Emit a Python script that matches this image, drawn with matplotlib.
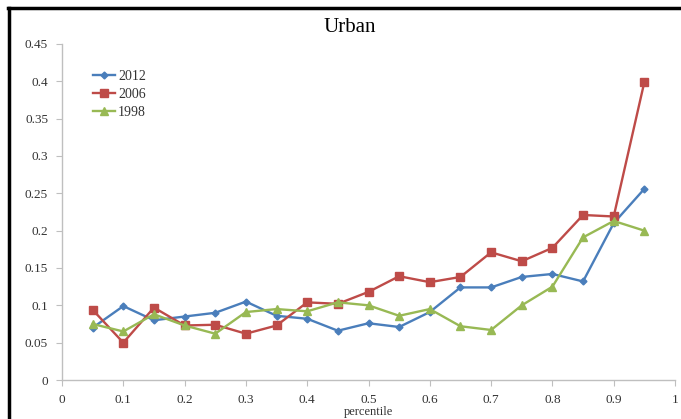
import matplotlib
matplotlib.use('Agg')
import matplotlib.pyplot as plt
import numpy as np

# percentile grid and share values per survey year
pct = [0.05, 0.1, 0.15, 0.2, 0.25, 0.3, 0.35, 0.4, 0.45, 0.5,
       0.55, 0.6, 0.65, 0.7, 0.75, 0.8, 0.85, 0.9, 0.95]
y2012 = [0.070, 0.099, 0.080, 0.085, 0.090, 0.105, 0.086, 0.082, 0.066, 0.076,
         0.071, 0.091, 0.124, 0.124, 0.138, 0.142, 0.132, 0.210, 0.256]
y2006 = [0.094, 0.050, 0.097, 0.073, 0.074, 0.062, 0.073, 0.104, 0.102, 0.118,
         0.139, 0.131, 0.138, 0.171, 0.159, 0.177, 0.221, 0.219, 0.399]
y1998 = [0.075, 0.065, 0.088, 0.073, 0.062, 0.091, 0.095, 0.092, 0.104, 0.100,
         0.086, 0.095, 0.072, 0.067, 0.100, 0.125, 0.191, 0.213, 0.200]

xticks = np.arange(0, 1.01, 0.1)
yticks = np.arange(0, 0.451, 0.05)

plt.rcParams['font.family'] = ['Liberation Serif', 'DejaVu Serif']

fig = plt.figure(figsize=(6.81, 4.19), dpi=100)
ax = fig.add_axes([62/681, 1-380/419, 613/681, 336/419])

ax.plot(pct, y2012, '-D', color='#4a7ebb', lw=1.7, ms=3.5, label='2012')
ax.plot(pct, y2006, '-s', color='#be4b48', lw=1.7, ms=5.5, label='2006')
ax.plot(pct, y1998, '-^', color='#98b954', lw=1.7, ms=5.5, label='1998')

ax.set_xlim(0, 1)
ax.set_ylim(0, 0.45)
ax.set_xticks(xticks)
ax.set_xticklabels(['0'] + ['%.1f' % v for v in xticks[1:-1]] + ['1'])
ax.set_yticks(yticks)
ax.set_yticklabels(['0'] + ['%g' % round(v, 2) for v in yticks[1:]])
ax.tick_params(labelsize=9.5, colors='#333333', length=4, width=0.8,
               color='#bfbfbf', pad=6)
for s in ['top', 'right']:
    ax.spines[s].set_visible(False)
for s in ['left', 'bottom']:
    ax.spines[s].set_color('#bfbfbf')
    ax.spines[s].set_linewidth(1)

ax.set_xlabel('percentile', fontsize=9, color='#333333', labelpad=0)
leg = ax.legend(loc='upper left', bbox_to_anchor=(0.03, 0.96), frameon=False,
                fontsize=10, handlelength=1.6, handletextpad=0.2,
                labelspacing=0.35)
for t in leg.get_texts():
    t.set_color('#333333')

fig.text(350/681, 1-28/419, 'Urban', ha='center', va='center', fontsize=15)

# outer frame lines
fig.add_artist(plt.Line2D([8/681, 1], [1-8/419, 1-8/419], color='black',
                          lw=2.5, transform=fig.transFigure))
fig.add_artist(plt.Line2D([9/681, 9/681], [0, 1-8/419], color='black',
                          lw=2.5, transform=fig.transFigure))

fig.savefig('out.png', dpi=100)
